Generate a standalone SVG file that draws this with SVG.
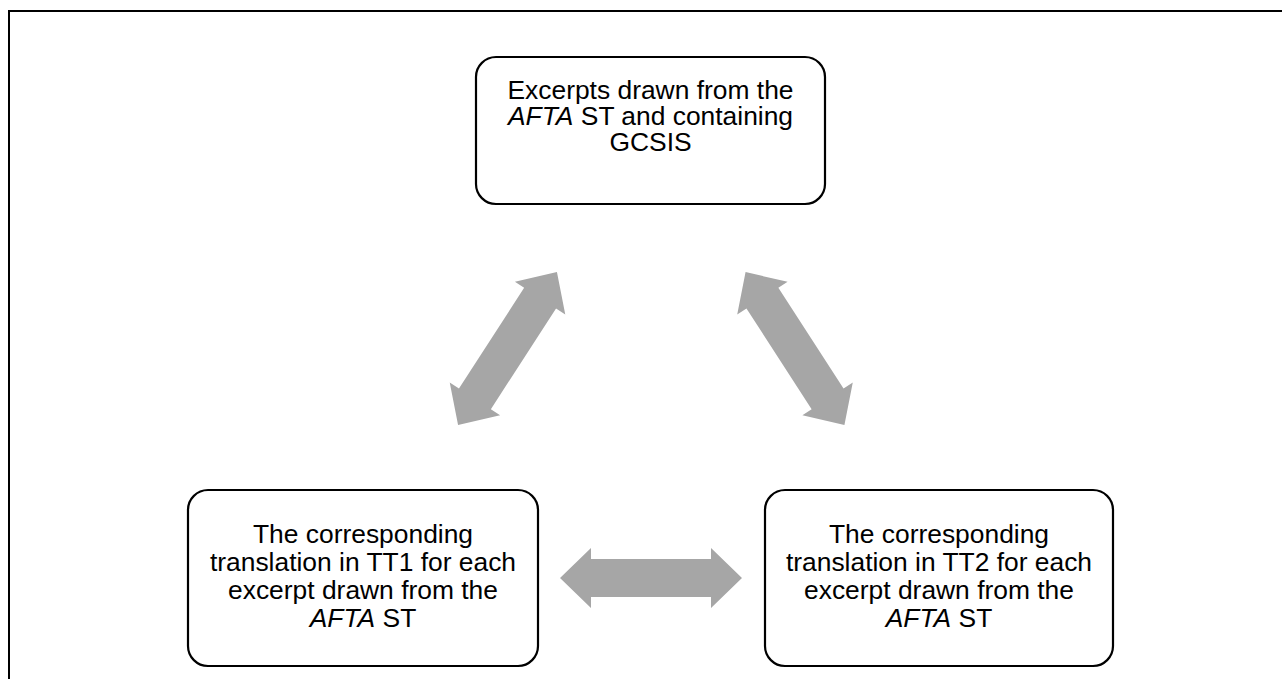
<svg xmlns="http://www.w3.org/2000/svg" width="1282" height="679" viewBox="0 0 1282 679">
  <style>
    .frame { fill: none; stroke: #000; stroke-width: 2; }
    .node rect { fill: #fff; stroke: #000; stroke-width: 2.2; }
    .node text { font-family: "Liberation Sans", Arial, sans-serif; font-size: 26.4px; fill: #000; text-anchor: middle; }
    .it { font-style: italic; }
    .dbl { fill: #A6A6A6; }
  </style>
  <defs>
    <!-- double-headed block arrow, centred on the origin, pointing along x -->
    <path id="dblArrow" d="M -91 0 L -60 -30 L -60 -19 L 60 -19 L 60 -30 L 91 0 L 60 30 L 60 19 L -60 19 L -60 30 Z"/>
  </defs>

  <rect width="1282" height="679" fill="#fff"/>
  <!-- page frame -->
  <path class="frame" d="M 9 679 L 9 11 L 1282 11"/>

  <g id="connectors">
    <use href="#dblArrow" class="dbl" transform="translate(507.5 348.5) rotate(-57.1)"/>
    <use href="#dblArrow" class="dbl" transform="translate(795 348.5) rotate(57.1)"/>
    <use href="#dblArrow" class="dbl" transform="translate(651 578)"/>
  </g>

  <g id="node-st" class="node">
    <rect x="476" y="57" width="349" height="147" rx="20" ry="20"/>
    <text x="650.5" y="99">Excerpts drawn from the</text>
    <text x="650.5" y="125"><tspan class="it">AFTA</tspan> ST and containing</text>
    <text x="650.5" y="151">GCSIS</text>
  </g>

  <g id="node-tt1" class="node">
    <rect x="188" y="490" width="350" height="176" rx="20" ry="20"/>
    <text x="363" y="543">The corresponding</text>
    <text x="363" y="571">translation in TT1 for each</text>
    <text x="363" y="599">excerpt drawn from the</text>
    <text x="363" y="627"><tspan class="it">AFTA</tspan> ST</text>
  </g>

  <g id="node-tt2" class="node">
    <rect x="765" y="490" width="348" height="176" rx="20" ry="20"/>
    <text x="939" y="543">The corresponding</text>
    <text x="939" y="571">translation in TT2 for each</text>
    <text x="939" y="599">excerpt drawn from the</text>
    <text x="939" y="627"><tspan class="it">AFTA</tspan> ST</text>
  </g>
</svg>
